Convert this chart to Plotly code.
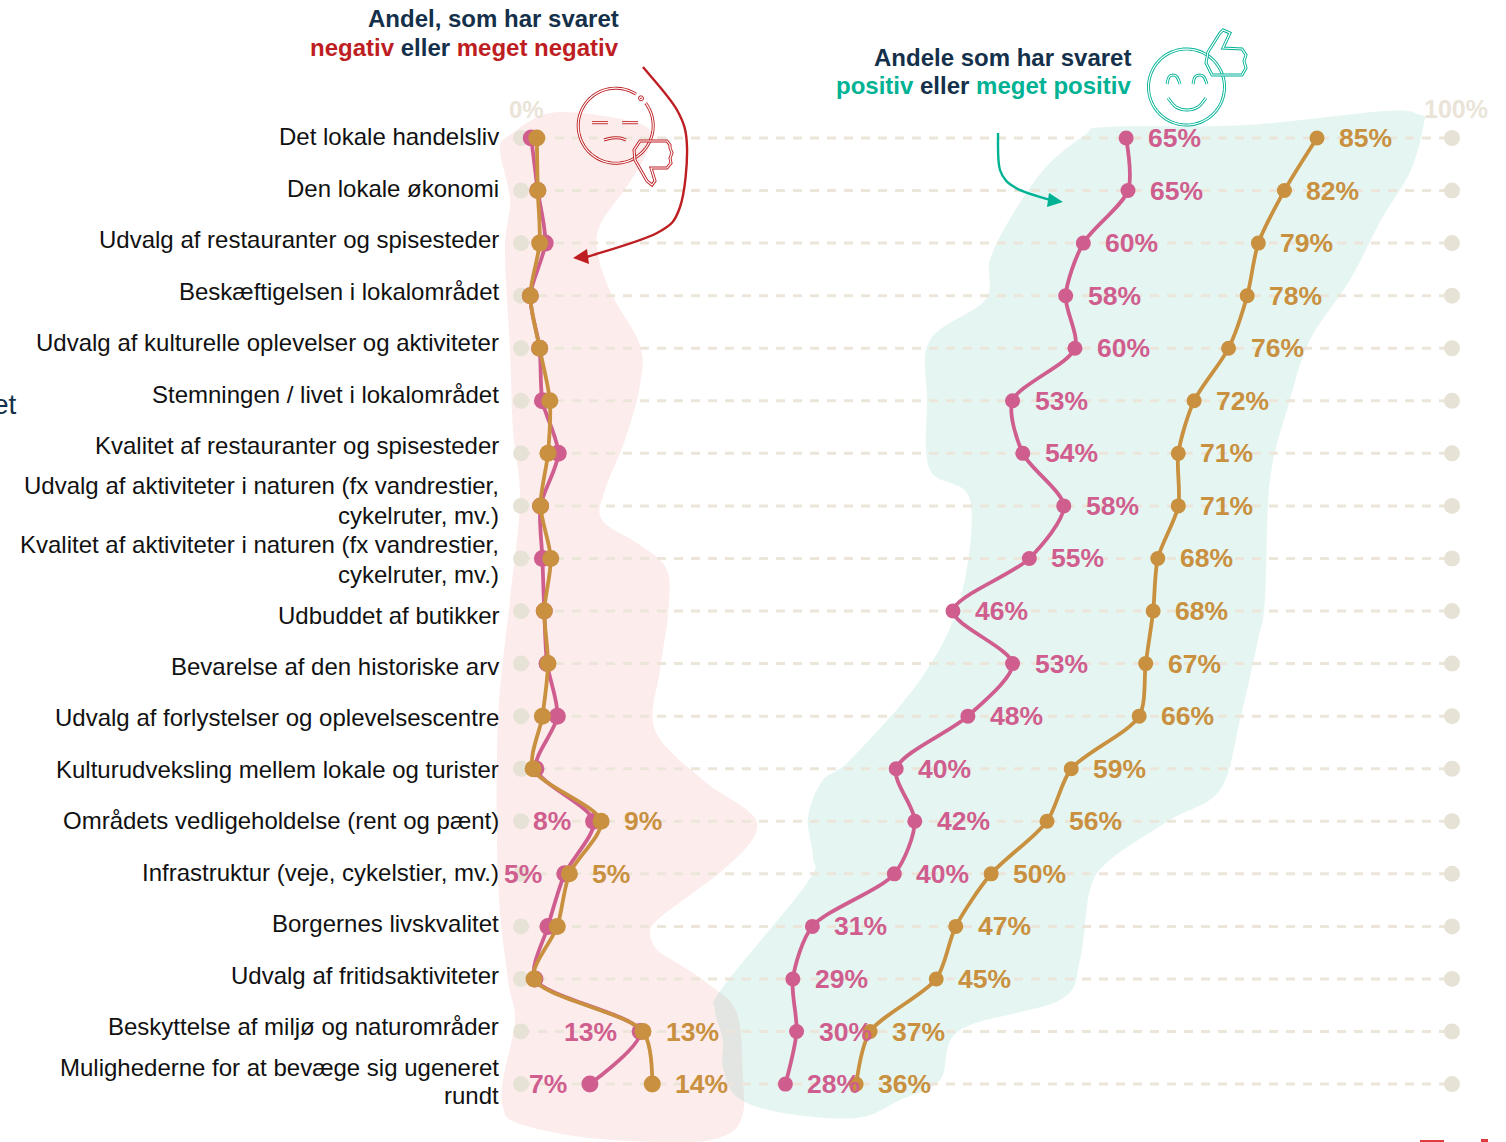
import numpy as np
import plotly.graph_objects as go

W, H = 1506, 1142
CATEGORIES = [
    "Det lokale handelsliv", "Den lokale økonomi", "Udvalg af restauranter og spisesteder",
    "Beskæftigelsen i lokalområdet", "Udvalg af kulturelle oplevelser og aktiviteter",
    "Stemningen / livet i lokalområdet", "Kvalitet af restauranter og spisesteder",
    "Udvalg af aktiviteter i naturen (fx vandrestier,\ncykelruter, mv.)",
    "Kvalitet af aktiviteter i naturen (fx vandrestier,\ncykelruter, mv.)",
    "Udbuddet af butikker", "Bevarelse af den historiske arv",
    "Udvalg af forlystelser og oplevelsescentre", "Kulturudveksling mellem lokale og turister",
    "Områdets vedligeholdelse (rent og pænt)", "Infrastruktur (veje, cykelstier, mv.)",
    "Borgernes livskvalitet", "Udvalg af fritidsaktiviteter",
    "Beskyttelse af miljø og naturområder", "Mulighederne for at bevæge sig ugeneret\nrundt",
]
NEG_PINK = [1.1, 1.8, 2.6, 1.0, 2.0, 2.3, 4.0, 2.1, 2.3, 2.5, 2.8, 3.9, 1.6, 7.8, 4.7, 2.9, 1.5, 12.8, 7.4]
NEG_ORANGE = [1.7, 1.8, 2.0, 1.0, 2.0, 3.1, 2.9, 2.1, 3.2, 2.5, 2.9, 2.3, 1.3, 8.6, 5.2, 3.9, 1.4, 13.1, 14.1]
POS_PINK = [65.0, 65.2, 60.4, 58.5, 59.5, 52.8, 53.9, 58.3, 54.6, 46.4, 52.8, 48.0, 40.3, 42.3, 40.1, 31.3, 29.2, 29.6, 28.4]
POS_ORANGE = [85.5, 82.0, 79.2, 78.0, 76.0, 72.3, 70.6, 70.6, 68.4, 67.9, 67.1, 66.4, 59.1, 56.5, 50.5, 46.7, 44.6, 37.5, 36.0]
POS_PINK_LABELS = ["65%", "65%", "60%", "58%", "60%", "53%", "54%", "58%", "55%", "46%", "53%", "48%", "40%", "42%", "40%", "31%", "29%", "30%", "28%"]
POS_ORANGE_LABELS = ["85%", "82%", "79%", "78%", "76%", "72%", "71%", "71%", "68%", "68%", "67%", "66%", "59%", "56%", "50%", "47%", "45%", "37%", "36%"]
NEG_PINK_LABELS = [None] * 13 + ["8%", "5%", None, None, "13%", "7%"]
NEG_ORANGE_LABELS = [None] * 13 + ["9%", "5%", None, None, "13%", "14%"]
LABEL_Y_PX = [[137], [188], [240], [291], [343], [394], [445], [486, 515], [545, 574], [615], [666], [717],
              [769], [820], [872], [923], [975], [1026], [1067, 1095]]

PINK, ORANGE = "#CF5E8E", "#C8903F"
NAVY, RED, TEAL = "#14304A", "#BE1E22", "#00B294"
BEIGE_DASH, BEIGE_DOT, BEIGE_TXT = "#EBE5DA", "#E6E2D6", "#EAE4D8"
FONT = "Liberation Sans"

X0, XS = 521.0, 9.31
Y0, YS = 138.0, 52.56


def px(p):
    return p / W


def py(p):
    return 1 - p / H


def poly(points, close=False):
    s = "M " + " L ".join(f"{px(x):.5f},{py(y):.5f}" for x, y in points)
    return s + (" Z" if close else "")


def smooth(points):
    """Closed Catmull-Rom outline as cubic Beziers (decorative blobs)."""
    p = np.array(points, float)
    n = len(p)
    s = f"M {px(p[0][0]):.5f},{py(p[0][1]):.5f}"
    for i in range(n):
        a, b, c, d = p[(i - 1) % n], p[i], p[(i + 1) % n], p[(i + 2) % n]
        c1 = b + (c - a) / 6
        c2 = c - (d - b) / 6
        s += (f" C {px(c1[0]):.5f},{py(c1[1]):.5f} {px(c2[0]):.5f},{py(c2[1]):.5f}"
              f" {px(c[0]):.5f},{py(c[1]):.5f}")
    return s + " Z"


def open_smooth(points):
    p = np.array(points, float)
    p = np.vstack([p[0], p, p[-1]])
    s = f"M {px(p[1][0]):.5f},{py(p[1][1]):.5f}"
    for i in range(1, len(p) - 2):
        a, b, c, d = p[i - 1], p[i], p[i + 1], p[i + 2]
        c1 = b + (c - a) / 6
        c2 = c - (d - b) / 6
        s += (f" C {px(c1[0]):.5f},{py(c1[1]):.5f} {px(c2[0]):.5f},{py(c2[1]):.5f}"
              f" {px(c[0]):.5f},{py(c[1]):.5f}")
    return s


def arc(cx, cy, r, a0, a1, n=80):
    t = np.radians(np.linspace(a0, a1, n))
    return [(cx + r * np.cos(a), cy - r * np.sin(a)) for a in t]


shapes = []


def add_path(path, color=None, width=1.5, fill=None, layer="above"):
    shapes.append(dict(type="path", xref="paper", yref="paper", path=path, layer=layer,
                       line=dict(color=color if color else "rgba(0,0,0,0)", width=width if color else 0),
                       fillcolor=fill if fill else "rgba(0,0,0,0)"))


def double(path, color):
    add_path(path, color, 3.0)
    add_path(path, "#FFFFFF", 1.2)


PINK_BLOB = [(510, 135), (550, 113), (610, 117), (648, 128), (648, 150), (628, 185), (600, 225), (598, 255),
             (612, 295), (640, 345), (640, 385), (625, 440), (605, 490), (602, 520), (640, 545), (667, 570),
             (668, 615), (660, 670), (655, 730), (703, 780), (743, 807), (757, 823), (750, 843), (723, 870),
             (690, 895), (657, 920), (650, 933), (657, 950), (677, 963), (707, 983), (737, 1013), (743, 1080),
             (743, 1113), (730, 1133), (690, 1142), (590, 1138), (517, 1123),
             (503, 1107), (503, 1080), (515, 1020), (508, 980), (498, 880), (498, 720), (510, 600), (520, 500),
             (513, 430), (510, 350), (505, 250), (510, 200), (500, 150)]
TEAL_BLOB = [(1085, 135), (1107, 127), (1246, 125), (1385, 111), (1420, 115), (1424, 123), (1411, 170), (1381, 220),
             (1350, 280), (1310, 340), (1290, 400), (1270, 480), (1265, 600), (1258, 640), (1240, 720), (1220, 790),
             (1170, 820), (1110, 860), (1090, 890), (1080, 960), (1060, 1000), (960, 1030), (940, 1080), (900, 1100),
             (857, 1118), (783, 1113), (737, 1097), (723, 1067), (723, 1040), (715, 1010), (723, 987), (807, 883),
             (813, 857), (808, 817), (823, 780), (850, 760), (920, 680), (960, 600), (970, 500), (930, 470),
             (927, 400), (930, 340), (985, 300), (990, 260), (1011, 217), (1046, 167)]
add_path(smooth(PINK_BLOB), fill="rgba(215,40,30,0.085)", layer="below")
add_path(smooth(TEAL_BLOB), fill="rgba(0,170,130,0.10)", layer="below")

# sad face
FC = (615.7, 125.7)
double(poly(arc(*FC, 37.5, 37, -303)), RED)
double(poly(arc(490 + 453 / 3, 295 / 3, 1.4, 0, 360, 16), True), RED)
double(poly([(592, 122.7), (608, 122.7)]), RED)
double(poly([(622, 122.7), (638, 122.7)]), RED)
double(open_smooth([(604, 140), (612, 138), (620, 138), (626, 140)]), RED)
THUMB_DOWN = [(640, 141), (667, 141), (670, 145), (670, 148), (672, 153), (670, 158), (671, 163), (667, 168),
              (651, 168), (655, 181), (652, 185), (647, 181), (635, 160), (634, 150)]
double(poly(THUMB_DOWN, True), RED)

# happy face
FH = (1186.5, 87)
double(poly(arc(*FH, 38, 0, 360, 100), True), TEAL)
double(open_smooth([(1167, 84), (1169, 77), (1173, 75), (1177, 77), (1180, 84)]), TEAL)
double(open_smooth([(1193, 84), (1195, 77), (1200, 75), (1204, 77), (1207, 84)]), TEAL)
double(open_smooth([(1168, 98), (1176, 107), (1187, 110), (1198, 107), (1206, 98)]), TEAL)
THUMB_UP = [(1223, 30), (1230, 33), (1223, 48), (1242, 49), (1246, 55), (1244, 61), (1246, 68), (1242, 75),
            (1212, 75), (1206, 63), (1208, 52), (1220, 33)]
double(poly(THUMB_UP, True), TEAL)

# arrows
add_path(open_smooth([(643, 67), (677, 110), (687, 147), (680, 207), (657, 233), (587, 257)]), RED, 2.4)
add_path(poly([(573, 258), (587, 249), (589, 264)], True), None, fill=RED)
add_path(open_smooth([(998, 133), (1000, 170), (1016, 188), (1050, 200)]), TEAL, 2.4)
add_path(poly([(1063, 202), (1049, 193), (1047, 207)], True), None, fill=TEAL)

# stray red marks at the page bottom
add_path(poly([(1420, 1140), (1444, 1140), (1444, 1142), (1420, 1142)], True), None, fill="#E03A3E")
add_path(poly([(1481, 1139), (1488, 1139), (1488, 1142), (1481, 1142)], True), None, fill="#E03A3E")

fig = go.Figure()

for c in CATEGORIES:
    fig.add_trace(go.Scatter(x=[0, 100], y=[c, c], mode="lines", hoverinfo="skip",
                             line=dict(color=BEIGE_DASH, width=3, dash="9px,8px")))
fig.add_trace(go.Scatter(x=[0] * len(CATEGORIES) + [100] * len(CATEGORIES), y=CATEGORIES + CATEGORIES,
                         mode="markers", marker=dict(color=BEIGE_DOT, size=16)))

for vals, col, size in [(NEG_PINK, PINK, 17), (NEG_ORANGE, ORANGE, 17), (POS_PINK, PINK, 15), (POS_ORANGE, ORANGE, 15)]:
    fig.add_trace(go.Scatter(x=vals, y=CATEGORIES, mode="lines+markers",
                             line=dict(color=col, width=3.8, shape="spline", smoothing=0.8),
                             marker=dict(color=col, size=size)))

annotations = []


def text(x, y, s, size, color, anchor="right", xref="paper", yref="paper", xshift=0, yshift=0):
    annotations.append(dict(x=x, y=y, xref=xref, yref=yref, text=s, showarrow=False, xanchor=anchor,
                            yanchor="middle", xshift=xshift, yshift=yshift, align=anchor,
                            font=dict(family=FONT, size=size, color=color)))


for cat, ys in zip(CATEGORIES, LABEL_Y_PX):
    for line, yy in zip(cat.split("\n"), ys):
        text(px(501), py(yy), line, 24, "#111111")

for vals, labs, col, anch, sh in [(POS_PINK, POS_PINK_LABELS, PINK, "left", 20),
                                  (POS_ORANGE, POS_ORANGE_LABELS, ORANGE, "left", 20),
                                  (NEG_PINK, NEG_PINK_LABELS, PINK, "right", -21),
                                  (NEG_ORANGE, NEG_ORANGE_LABELS, ORANGE, "left", 21)]:
    for v, lab, c in zip(vals, labs, CATEGORIES):
        if lab:
            text(v, c, f"<b>{lab}</b>", 26.5, col, anch, "x", "y", sh, 0)

text(px(526.5), py(109), "<b>0%</b>", 24, BEIGE_TXT, "center")
text(px(1456), py(109), "<b>100%</b>", 25, BEIGE_TXT, "center")
text(px(621), py(19), "<b>Andel, som har svaret</b>", 24, NAVY)
text(px(621), py(47), f'<b><span style="color:{RED}">negativ</span> eller <span style="color:{RED}">meget negativ</span></b>', 24, NAVY)
text(px(1133), py(57), "<b>Andele som har svaret</b>", 24, NAVY)
text(px(1133), py(86), f'<b><span style="color:{TEAL}">positiv</span> eller <span style="color:{TEAL}">meget positiv</span></b>', 24, NAVY)
text(px(19), py(404), "et", 28, NAVY)

fig.update_layout(
    width=W, height=H, margin=dict(l=0, r=0, t=0, b=0, pad=0), showlegend=False,
    paper_bgcolor="white", plot_bgcolor="rgba(0,0,0,0)", shapes=shapes, annotations=annotations,
    xaxis=dict(visible=False, range=[-X0 / XS, (W - X0) / XS]),
    yaxis=dict(visible=False, type="category", categoryorder="array", categoryarray=CATEGORIES,
               range=[(H - Y0) / YS, -Y0 / YS]),
)
fig.write_html("out.html", config=dict(displayModeBar=False),
               post_script="document.body.style.margin='0';document.body.style.overflow='hidden';")
